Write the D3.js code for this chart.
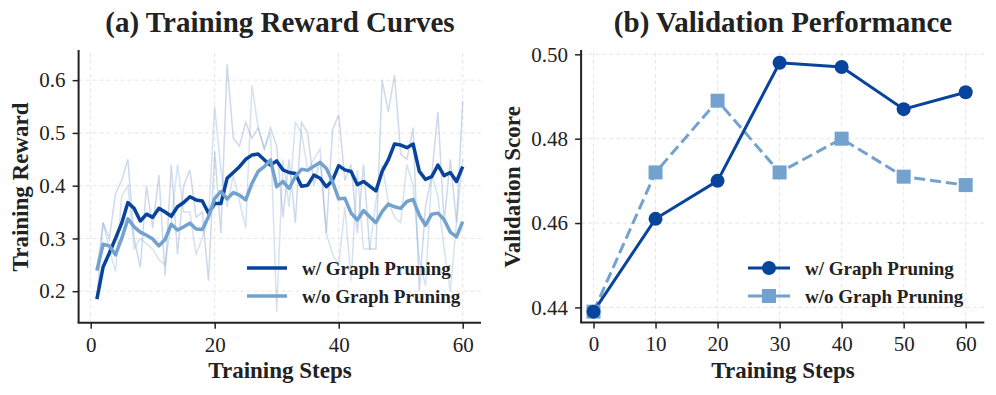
<!DOCTYPE html>
<html>
<head>
<meta charset="utf-8">
<script src="https://cdn.jsdelivr.net/npm/d3@7"></script>
<style>
  html, body { margin: 0; padding: 0; background: #fff; }
  svg { display: block; }
  text { font-family: "Liberation Serif", "Times New Roman", serif; fill: #222; }
</style>
</head>
<body>
<svg id="chart" width="996" height="395"></svg>
<script>
// ---------- data ----------
const steps = d3.range(1, 61);
const rawWith = [0.185,0.33,0.30,0.385,0.41,0.45,0.30,0.245,0.40,0.32,0.42,0.23,0.44,0.27,0.40,0.43,0.34,0.35,0.22,0.465,
                 0.31,0.63,0.49,0.475,0.52,0.49,0.51,0.47,0.51,0.475,0.34,0.45,0.33,0.52,0.50,0.40,0.45,0.31,0.505,0.535,
                 0.41,0.44,0.31,0.44,0.28,0.28,0.60,0.54,0.61,0.46,0.45,0.51,0.20,0.36,0.42,0.54,0.33,0.45,0.33,0.56];
const rawWithout = [0.24,0.33,0.28,0.237,0.38,0.40,0.28,0.30,0.29,0.28,0.26,0.25,0.33,0.44,0.35,0.35,0.27,0.30,0.34,0.55,
                    0.43,0.36,0.42,0.37,0.32,0.59,0.51,0.47,0.50,0.16,0.45,0.36,0.52,0.50,0.43,0.45,0.47,0.31,0.27,0.25,
                    0.36,0.22,0.43,0.28,0.28,0.37,0.44,0.37,0.34,0.33,0.44,0.40,0.26,0.21,0.42,0.38,0.28,0.20,0.33,0.45];
const smoothWith = [0.185,0.246,0.272,0.30,0.329,0.368,0.357,0.333,0.346,0.340,0.357,0.350,0.342,0.360,0.368,0.379,0.373,0.371,0.348,0.366,
                    0.366,0.414,0.425,0.436,0.450,0.458,0.460,0.449,0.439,0.447,0.430,0.425,0.423,0.399,0.401,0.420,0.414,0.398,0.410,0.438,
                    0.430,0.427,0.402,0.408,0.399,0.390,0.427,0.449,0.479,0.477,0.472,0.479,0.427,0.412,0.417,0.439,0.419,0.425,0.408,0.436];
const smoothWithout = [0.239,0.289,0.286,0.269,0.300,0.337,0.322,0.312,0.306,0.299,0.286,0.298,0.327,0.316,0.322,0.329,0.318,0.317,0.341,0.376,
                       0.389,0.375,0.387,0.382,0.373,0.404,0.427,0.436,0.449,0.398,0.408,0.395,0.417,0.431,0.429,0.437,0.444,0.433,0.408,0.375,
                       0.376,0.348,0.335,0.353,0.341,0.330,0.351,0.365,0.360,0.357,0.370,0.374,0.344,0.325,0.346,0.348,0.336,0.312,0.303,0.332];

const valSteps = [0, 10, 20, 30, 40, 50, 60];
const valWith = [0.439, 0.461, 0.470, 0.498, 0.497, 0.487, 0.491];
const valWithout = [0.439, 0.472, 0.489, 0.472, 0.480, 0.471, 0.469];

const leftXTicks = [0, 20, 40, 60];
const leftYTicks = [0.2, 0.3, 0.4, 0.5, 0.6];
const rightXTicks = [0, 10, 20, 30, 40, 50, 60];
const rightYTicks = [0.44, 0.46, 0.48, 0.50];

const seriesNames = ["w/ Graph Pruning", "w/o Graph Pruning"];
const titles = ["(a) Training Reward Curves", "(b) Validation Performance"];
const xLabel = "Training Steps";
const yLabels = ["Training Reward", "Validation Score"];

// ---------- style ----------
const DARK = "#08439c";
const LIGHT = "#72a2cd";
const svg = d3.select("#chart");

function panel(opt) {
  const g = svg.append("g");
  const x = d3.scaleLinear().domain(opt.xDomain).range(opt.xRange);
  const y = d3.scaleLinear().domain(opt.yDomain).range(opt.yRange);
  const [x0, x1] = opt.xRange, [y0, y1] = opt.yRange;

  // grid
  const grid = g.append("g").attr("stroke", "#e6e6e6").attr("stroke-width", 1).attr("stroke-dasharray", "4,3");
  opt.xTicks.forEach(t => grid.append("line").attr("x1", x(t)).attr("x2", x(t)).attr("y1", y0).attr("y2", y1));
  opt.yTicks.forEach(t => grid.append("line").attr("x1", x0).attr("x2", x1).attr("y1", y(t)).attr("y2", y(t)));

  // axes
  const xa = g.append("g").attr("transform", `translate(0,${y0})`)
    .call(d3.axisBottom(x).tickValues(opt.xTicks).tickSize(6).tickPadding(5).tickFormat(d3.format("d")));
  const ya = g.append("g").attr("transform", `translate(${x0},0)`)
    .call(d3.axisLeft(y).tickValues(opt.yTicks).tickSize(6).tickPadding(7).tickFormat(opt.yFormat));
  [xa, ya].forEach(a => {
    a.select(".domain").remove();
    a.selectAll(".tick line").attr("stroke", "#222").attr("stroke-width", 1.5);
    a.selectAll(".tick text").style("font-size", "21px").attr("fill", "#222");
  });
  xa.selectAll(".tick text").attr("dy", "0.85em");
  // spines
  g.append("line").attr("x1", x0).attr("x2", x0).attr("y1", y0).attr("y2", y1).attr("stroke", "#222").attr("stroke-width", 2);
  g.append("line").attr("x1", x0 - 1).attr("x2", x1).attr("y1", y0).attr("y2", y0).attr("stroke", "#222").attr("stroke-width", 2);

  // labels
  g.append("text").attr("x", opt.titleX).attr("y", 32).attr("text-anchor", "middle")
    .style("font-size", "29px").style("font-weight", "bold").text(opt.title);
  g.append("text").attr("x", opt.xLabelX).attr("y", 378).attr("text-anchor", "middle")
    .style("font-size", "23px").style("font-weight", "bold").text(xLabel);
  g.append("text").attr("transform", `translate(${opt.yLabelX},187) rotate(-90)`).attr("text-anchor", "middle")
    .attr("dy", "0.35em").style("font-size", "23px").style("font-weight", "bold").text(opt.yLabel);
  return { g, x, y };
}

// ---------- panel (a) ----------
const A = panel({
  xDomain: [-1.95, 62.95], xRange: [78.6, 481], yDomain: [0.14, 0.657], yRange: [322.85, 50.1],
  xTicks: leftXTicks, yTicks: leftYTicks, yFormat: d3.format(".1f"),
  title: titles[0], titleX: 280, xLabelX: 280, yLabelX: 20, yLabel: yLabels[0]
});
const lineA = d3.line().x((d, i) => A.x(steps[i])).y(d => A.y(d));
A.g.append("path").attr("d", lineA(rawWith)).attr("fill", "none").attr("stroke", DARK).attr("stroke-opacity", 0.2).attr("stroke-width", 1.5);
A.g.append("path").attr("d", lineA(rawWithout)).attr("fill", "none").attr("stroke", LIGHT).attr("stroke-opacity", 0.3).attr("stroke-width", 1.5);
A.g.append("path").attr("d", lineA(smoothWith)).attr("fill", "none").attr("stroke", DARK).attr("stroke-width", 3.5).attr("stroke-linejoin", "round");
A.g.append("path").attr("d", lineA(smoothWithout)).attr("fill", "none").attr("stroke", LIGHT).attr("stroke-width", 3.5).attr("stroke-linejoin", "round");

// legend (a)
[[DARK, 268], [LIGHT, 296]].forEach(([c, yy], i) => {
  A.g.append("line").attr("x1", 247).attr("x2", 287).attr("y1", yy).attr("y2", yy).attr("stroke", c).attr("stroke-width", 3.5);
  A.g.append("text").attr("x", 302).attr("y", yy).attr("dy", "0.35em").style("font-size", "19px").style("font-weight", "bold").text(seriesNames[i]);
});

// ---------- panel (b) ----------
const B = panel({
  xDomain: [-2, 63], xRange: [581.1, 984.3], yDomain: [0.4364, 0.501], yRange: [322.6, 50.1],
  xTicks: rightXTicks, yTicks: rightYTicks, yFormat: d3.format(".2f"),
  title: titles[1], titleX: 783, xLabelX: 783, yLabelX: 512, yLabel: yLabels[1]
});
const lineB = d3.line().x((d, i) => B.x(valSteps[i])).y(d => B.y(d));
B.g.append("path").attr("d", lineB(valWithout)).attr("fill", "none").attr("stroke", LIGHT).attr("stroke-width", 3).attr("stroke-dasharray", "11,5");
B.g.append("path").attr("d", lineB(valWith)).attr("fill", "none").attr("stroke", DARK).attr("stroke-width", 3);
B.g.selectAll(".sq").data(valWithout).enter().append("rect").attr("class", "sq")
  .attr("x", (d, i) => B.x(valSteps[i]) - 7).attr("y", d => B.y(d) - 7).attr("width", 14).attr("height", 14).attr("fill", LIGHT);
B.g.selectAll(".ci").data(valWith).enter().append("circle").attr("class", "ci")
  .attr("cx", (d, i) => B.x(valSteps[i])).attr("cy", d => B.y(d)).attr("r", 7).attr("fill", DARK);

// legend (b)
[[DARK, 268], [LIGHT, 296]].forEach(([c, yy], i) => {
  B.g.append("line").attr("x1", 748).attr("x2", 790).attr("y1", yy).attr("y2", yy).attr("stroke", c).attr("stroke-width", 3);
  if (i === 0) B.g.append("circle").attr("cx", 769).attr("cy", yy).attr("r", 7).attr("fill", c);
  else B.g.append("rect").attr("x", 762).attr("y", yy - 7).attr("width", 14).attr("height", 14).attr("fill", c);
  B.g.append("text").attr("x", 805).attr("y", yy).attr("dy", "0.35em").style("font-size", "19px").style("font-weight", "bold").text(seriesNames[i]);
});
</script>
</body>
</html>
